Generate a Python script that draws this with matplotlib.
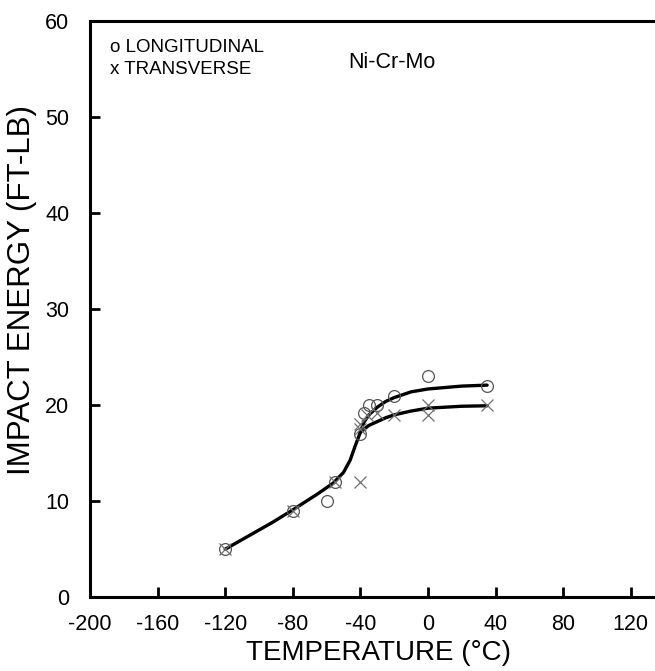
import numpy as np
import matplotlib
matplotlib.use("Agg")
import matplotlib.pyplot as plt

plt.rcParams['font.family'] = ['Liberation Sans', 'DejaVu Sans']
plt.rcParams['axes.unicode_minus'] = False

# measured points, longitudinal (o) and transverse (x)
long_t = [-120, -80, -60, -55, -40, -38, -35, -30, -20, 0, 35]
long_e = [5, 9, 10, 12, 17, 19.2, 20, 20, 21, 23, 22]
trans_t = [-120, -80, -55, -40, -40, -40, -36, -30, -20, 0, 0, 35]
trans_e = [5, 9, 12, 12, 18, 17.5, 19, 19.2, 19, 20, 19, 20]

# fitted curves
base_t = [-120, -107, -92, -80, -65, -56, -50, -46, -43, -40]
base_e = [5, 6.3, 7.8, 9.1, 10.8, 11.9, 13.0, 14.3, 15.8, 17.2]
upper_t = [-40, -38, -35, -30, -25, -20, -10, 0, 20, 35]
upper_e = [17.2, 18.2, 19.0, 19.8, 20.4, 20.8, 21.4, 21.7, 22.0, 22.1]
lower_t = [-40, -35, -30, -25, -20, -10, 0, 20, 35]
lower_e = [17.2, 17.9, 18.3, 18.7, 19.0, 19.4, 19.7, 19.9, 19.95]

W, H = 655, 671
fig = plt.figure(figsize=(W / 100, H / 100), dpi=100)
ax = fig.add_axes([0.1374, 0.110, 1.032, 0.858])

ax.plot(base_t, base_e, color='black', lw=2.4, solid_capstyle='round')
ax.plot(upper_t, upper_e, color='black', lw=2.4, solid_capstyle='round')
ax.plot(lower_t, lower_e, color='black', lw=2.4, solid_capstyle='round')

ax.plot(long_t, long_e, 'o', ms=8.5, mfc='none', mec='#555555', mew=0.9)
ax.plot(trans_t, trans_e, 'x', ms=8.5, color='#707070', mew=0.9)

ax.set_xlim(-200, 200)
ax.set_ylim(0, 60)
ax.set_xticks(np.arange(-200, 121, 40))
ax.set_yticks(np.arange(0, 61, 10))

for s in ax.spines.values():
    s.set_linewidth(2.2)
ax.tick_params(direction='in', length=7, width=2, labelsize=15.5)
ax.tick_params(axis='x', pad=12)
ax.tick_params(axis='y', pad=15)

ax.set_xlabel('TEMPERATURE (°C)', fontsize=20)
ax.xaxis.set_label_coords(0.4275, -0.074)
ax.set_ylabel('IMPACT ENERGY (FT-LB)', fontsize=22.5)
ax.yaxis.set_label_coords(-0.079, 0.533)

fig.text(110 / W, 1 - 48 / H, 'o LONGITUDINAL', fontsize=13.5, va='center')
fig.text(110 / W, 1 - 69 / H, 'x TRANSVERSE', fontsize=13.5, va='center')
fig.text(348 / W, 1 - 63 / H, 'Ni-Cr-Mo', fontsize=15.5, va='center')

fig.savefig('out.png', dpi=100)
